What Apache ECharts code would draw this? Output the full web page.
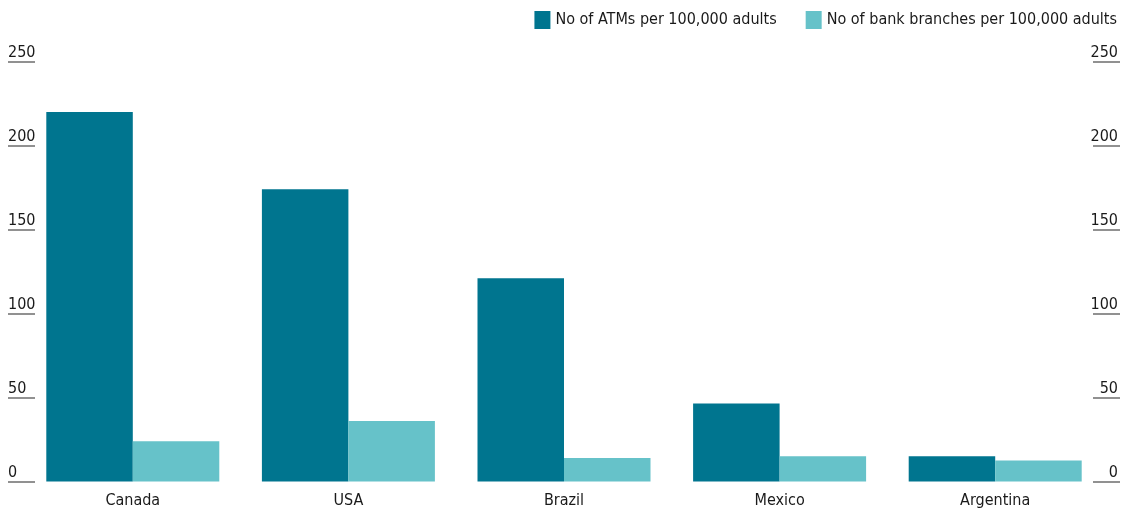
<!DOCTYPE html>
<html>
<head>
<meta charset="utf-8">
<script src="https://cdn.jsdelivr.net/npm/echarts@6/dist/echarts.min.js"></script>
<style>
html,body{margin:0;padding:0;background:#fff;}
#chart{width:1122px;height:509px;}
</style>
</head>
<body>
<div id="chart"></div>
<script>
const categories = ["Canada", "USA", "Brazil", "Mexico", "Argentina"];
const atms = [220, 174, 121, 46.5, 15];
const branches = [24, 36, 14, 15, 12.5];
const seriesNames = ["No of ATMs per 100,000 adults", "No of bank branches per 100,000 adults"];
const yTicks = [0, 50, 100, 150, 200, 250];

const FONT = "'Liberation Sans Narrow', 'DejaVu Sans Condensed', sans-serif";
const chart = echarts.init(document.getElementById('chart'));

function yAxisCfg(pos) {
  const left = pos === 'left';
  return {
    type: 'value',
    position: pos,
    min: yTicks[0],
    max: yTicks[yTicks.length - 1],
    interval: 50,
    offset: 17,
    axisLine: {show: false},
    axisTick: {show: true, inside: true, length: 27, lineStyle: {color: '#6e6e6e', width: 1.5}},
    splitLine: {show: false},
    axisLabel: {
      inside: true,
      margin: left ? 0 : 2,
      align: left ? 'left' : 'right',
      verticalAlign: 'bottom',
      padding: [0, 0, 1, 0],
      color: '#1a1a1a',
      fontSize: 16,
      fontFamily: FONT
    }
  };
}

chart.setOption({
  animation: false,
  backgroundColor: '#fff',
  textStyle: {fontFamily: FONT},
  legend: {
    top: 6,
    right: 0,
    icon: 'rect',
    itemWidth: 16,
    itemHeight: 18,
    itemGap: 29,
    textStyle: {fontSize: 16, color: '#1a1a1a', fontFamily: FONT},
    data: seriesNames
  },
  grid: {left: 25, right: 19, top: 61.5, bottom: 27.5, containLabel: false},
  xAxis: {
    type: 'category',
    data: categories,
    axisLine: {show: false},
    axisTick: {show: false},
    axisLabel: {color: '#1a1a1a', fontSize: 16, fontFamily: FONT, margin: 11}
  },
  yAxis: [yAxisCfg('left'), yAxisCfg('right')],
  series: [
    {name: seriesNames[0], type: 'bar', data: atms, barWidth: 86.5, barGap: '0%', itemStyle: {color: '#00758f'}},
    {name: seriesNames[1], type: 'bar', data: branches, barWidth: 86.5, barGap: '0%', itemStyle: {color: '#66c2c9'}}
  ]
});
</script>
</body>
</html>
